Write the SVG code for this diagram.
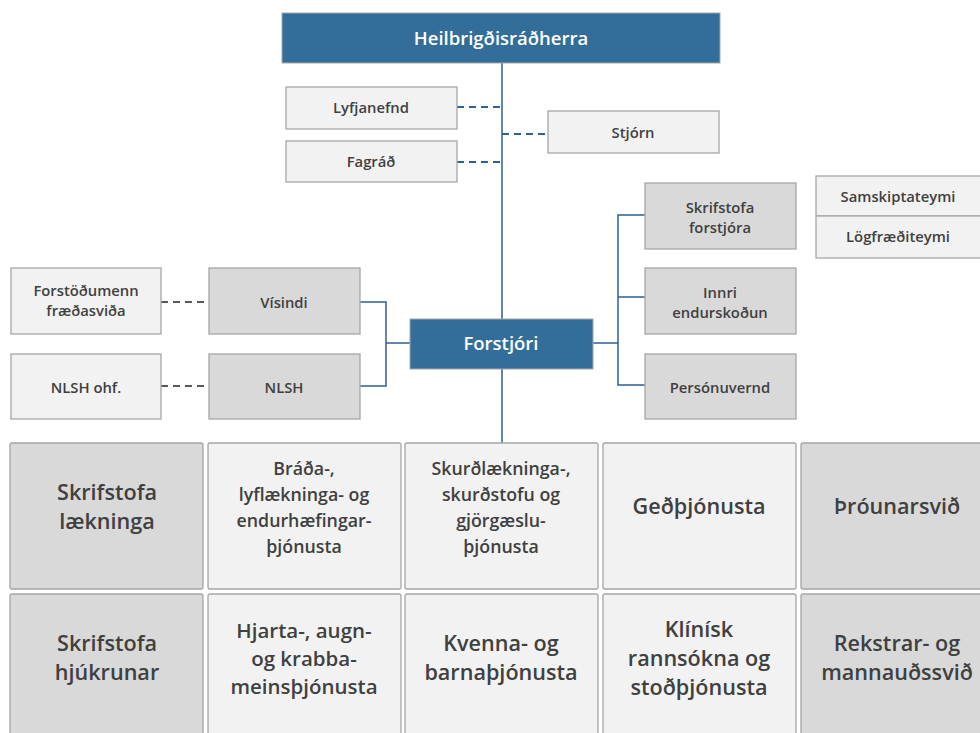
<svg xmlns="http://www.w3.org/2000/svg" width="980" height="733" viewBox="0 0 980 733">
<style>
text{font-family:"Open Sans","Noto Sans","Liberation Sans",sans-serif;text-anchor:middle;fill:#404040;font-weight:600}
.hd rect{fill:#336e9b;stroke:#a6a6a6;stroke-width:1}
.hd text{fill:#ffffff;font-size:18.5px}
.lt rect{fill:#f2f2f2;stroke:#a6a6a6;stroke-width:1.3}
.dk rect{fill:#d9d9d9;stroke:#a6a6a6;stroke-width:1.3}
.s{font-size:14.8px}
.m{font-size:17.8px}
.b{font-size:21.6px}
.h{font-size:20.5px}
.c{fill:none;stroke:#2f5f94;stroke-width:1.5}
.db{fill:none;stroke:#2f5f94;stroke-width:2;stroke-dasharray:7 5}
.dg{fill:none;stroke:#595959;stroke-width:2;stroke-dasharray:7 5}
</style>
<rect width="980" height="733" fill="#ffffff"/>
<g id="connectors">
<path class="c" d="M502 63V443"/>
<path class="db" d="M457 107H502M457 162H502M502 134H548"/>
<path class="dg" d="M161 302H209M161 386H209"/>
<path class="c" d="M360 302H386V386H360M386 343H410"/>
<path class="c" d="M593 343H618M645 215H618V385H645M618 297H645"/>
</g>
<g id="heilbrigdisradherra" class="hd"><rect x="282" y="13" width="438" height="50"/><text x="501" y="45">Heilbrigðisráðherra</text></g>
<g id="lyfjanefnd" class="lt"><rect x="286" y="87" width="171" height="42"/><text class="s" x="371" y="113">Lyfjanefnd</text></g>
<g id="fagrad" class="lt"><rect x="286" y="141" width="171" height="41"/><text class="s" x="371" y="167">Fagráð</text></g>
<g id="stjorn" class="lt"><rect x="548" y="111" width="171" height="42"/><text class="s" x="633" y="138">Stjórn</text></g>
<g id="forstjori" class="hd"><rect x="410" y="319" width="183" height="50"/><text x="501" y="350">Forstjóri</text></g>
<g id="forstodumenn" class="lt"><rect x="11" y="268" width="150" height="66"/><text class="s" x="86" y="296">Forstöðumenn</text><text class="s" x="86" y="316">fræðasviða</text></g>
<g id="visindi" class="dk"><rect x="209" y="268" width="151" height="66"/><text class="s" x="284" y="308">Vísindi</text></g>
<g id="nlsh-ohf" class="lt"><rect x="11" y="354" width="150" height="65"/><text class="s" x="86" y="393">NLSH ohf.</text></g>
<g id="nlsh" class="dk"><rect x="209" y="354" width="151" height="65"/><text class="s" x="284" y="393">NLSH</text></g>
<g id="skrifstofa-forstjora" class="dk"><rect x="645" y="183" width="151" height="66"/><text class="s" x="720" y="213">Skrifstofa</text><text class="s" x="720" y="233">forstjóra</text></g>
<g id="innri-endurskodun" class="dk"><rect x="645" y="268" width="151" height="66"/><text class="s" x="720" y="298">Innri</text><text class="s" x="720" y="318">endurskoðun</text></g>
<g id="personuvernd" class="dk"><rect x="645" y="354" width="151" height="65"/><text class="s" x="720" y="393">Persónuvernd</text></g>
<g id="samskiptateymi" class="lt"><rect x="816" y="176" width="170" height="40"/><text class="s" x="898" y="202">Samskiptateymi</text></g>
<g id="logfraediteymi" class="lt"><rect x="816" y="216" width="170" height="42"/><text class="s" x="898" y="242">Lögfræðiteymi</text></g>
<g id="skrifstofa-laekninga" class="dk"><rect x="10" y="443" width="193" height="146" rx="2"/><text class="b" x="107" y="500">Skrifstofa</text><text class="b" x="107" y="529">lækninga</text></g>
<g id="brada" class="lt"><rect x="208" y="443" width="193" height="146" rx="2"/><text class="m" x="304" y="475">Bráða-,</text><text class="m" x="304" y="501">lyflækninga- og</text><text class="m" x="304" y="527">endurhæfingar-</text><text class="m" x="304" y="553">þjónusta</text></g>
<g id="skurd" class="lt"><rect x="405" y="443" width="193" height="146" rx="2"/><text class="m" x="501" y="475">Skurðlækninga-,</text><text class="m" x="501" y="501">skurðstofu og</text><text class="m" x="501" y="527">gjörgæslu-</text><text class="m" x="501" y="553">þjónusta</text></g>
<g id="gedthjonusta" class="lt"><rect x="603" y="443" width="193" height="146" rx="2"/><text class="b" x="699" y="514">Geðþjónusta</text></g>
<g id="throunarsvid" class="dk"><rect x="801" y="443" width="193" height="146" rx="2"/><text class="b" x="897" y="514">Þróunarsvið</text></g>
<g id="skrifstofa-hjukrunar" class="dk"><rect x="10" y="594" width="193" height="146" rx="2"/><text class="b" x="107" y="651">Skrifstofa</text><text class="b" x="107" y="680">hjúkrunar</text></g>
<g id="hjarta" class="lt"><rect x="208" y="594" width="193" height="146" rx="2"/><text class="h" x="304" y="638">Hjarta-, augn-</text><text class="h" x="304" y="666">og krabba-</text><text class="h" x="304" y="694">meinsþjónusta</text></g>
<g id="kvenna" class="lt"><rect x="405" y="594" width="193" height="146" rx="2"/><text class="b" x="501" y="651">Kvenna- og</text><text class="b" x="501" y="680">barnaþjónusta</text></g>
<g id="klinisk" class="lt"><rect x="603" y="594" width="193" height="146" rx="2"/><text class="b" x="699" y="637">Klínísk</text><text class="b" x="699" y="666">rannsókna og</text><text class="b" x="699" y="695">stoðþjónusta</text></g>
<g id="rekstrar" class="dk"><rect x="801" y="594" width="193" height="146" rx="2"/><text class="b" x="897" y="651">Rekstrar- og</text><text class="b" x="897" y="680">mannauðssvið</text></g>
</svg>
